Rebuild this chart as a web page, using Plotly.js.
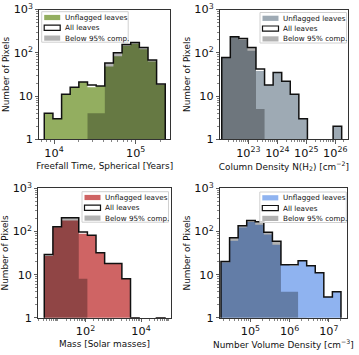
<!DOCTYPE html>
<html>
<head>
<meta charset="utf-8">
<script src="https://cdn.plot.ly/plotly-3.0.1.min.js"></script>
<style>
  html, body { margin: 0; padding: 0; background: #fff; }
  #chart { width: 359px; height: 355px; }
</style>
</head>
<body>
<div id="chart"></div>
<script>
// bin edges are log10 values, 14 bins per panel
const freefallEdges = [3.881, 3.987, 4.093, 4.198, 4.304, 4.410, 4.516, 4.622, 4.727, 4.833, 4.939, 5.045, 5.151, 5.256, 5.362];
const freefallAll = [4, 3, 11, 16, 21, 18, 17, 58, 100, 155, 172, 133, 68, 19];
const freefallUnflagged = [4, 3, 11, 16, 21, 16, 17, 48, 83, 145, 162, 120, 63, 18];
const freefallBelow = [0, 0, 0, 0, 1, 4, 4, 58, 100, 155, 172, 133, 68, 19];

const columnEdges = [22.080, 22.376, 22.672, 22.968, 23.263, 23.559, 23.855, 24.151, 24.447, 24.743, 25.039, 25.335, 25.631, 25.926, 26.222];
const columnAll = [78, 234, 214, 133, 42, 18, 35, 22, 11, 3, 0, 0, 0, 2];
const columnUnflagged = [78, 230, 196, 111, 38, 18, 35, 22, 11, 3, 0, 0, 0, 2];
const columnBelow = [78, 234, 214, 133, 5, 1, 0, 0, 0, 0, 0, 0, 0, 0];

const massEdges = [0.515, 0.826, 1.136, 1.447, 1.758, 2.069, 2.379, 2.690, 3.001, 3.311, 3.622, 3.933, 4.244, 4.554, 4.865];
const massAll = [29, 128, 207, 207, 97, 82, 32, 18, 18, 8, 1, 0, 0, 1];
const massUnflagged = [27, 125, 180, 180, 88, 80, 32, 18, 18, 8, 1, 0, 0, 1];
const massBelow = [29, 128, 207, 207, 8, 0, 0, 0, 0, 0, 0, 0, 0, 0];

const volumeEdges = [4.249, 4.468, 4.686, 4.905, 5.123, 5.342, 5.561, 5.779, 5.998, 6.216, 6.435, 6.654, 6.872, 7.091, 7.310];
const volumeAll = [20, 71, 135, 180, 167, 96, 59, 17, 17, 21, 16, 11, 3, 4];
const volumeUnflagged = [19, 61, 123, 165, 143, 85, 49, 17, 16, 21, 16, 11, 3, 4];
const volumeBelow = [20, 71, 135, 180, 167, 96, 59, 4, 4, 1, 0, 0, 0, 0];

const legendLabels = ['Unflagged leaves', 'All leaves', 'Below 95% comp.'];

const FONT = 'DejaVu Sans, Liberation Sans, sans-serif';
const W = 359, H = 355;
const FLOOR = 0.1; // below the 10^0 axis floor, so outlines run off the bottom
const BELOW_COLOR = 'rgba(0,0,0,0.3)';

function stepOutline(edges, counts) {
  const x = [10 ** edges[0]];
  const y = [FLOOR];
  counts.forEach((c, i) => {
    const v = c > 0 ? c : FLOOR;
    x.push(10 ** edges[i], 10 ** edges[i + 1]);
    y.push(v, v);
  });
  x.push(10 ** edges[edges.length - 1]);
  y.push(FLOOR);
  return { x, y };
}

function panelTraces(idx, edges, all, unflagged, below, color) {
  const suffix = idx === 1 ? '' : String(idx);
  const common = { xaxis: `x${suffix}`, yaxis: `y${suffix}`, mode: 'lines', fill: 'toself', hoverinfo: 'skip', showlegend: false };
  return [
    { ...common, ...stepOutline(edges, unflagged), name: legendLabels[0], fillcolor: color, line: { width: 0, color } },
    { ...common, ...stepOutline(edges, all), name: legendLabels[1], fillcolor: 'rgba(255,255,255,0)', line: { width: 1.5, color: '#111' } },
    { ...common, ...stepOutline(edges, below), name: legendLabels[2], fillcolor: BELOW_COLOR, line: { width: 0, color: BELOW_COLOR } },
  ];
}

const traces = [
  ...panelTraces(1, freefallEdges, freefallAll, freefallUnflagged, freefallBelow, '#93ae60'),
  ...panelTraces(2, columnEdges, columnAll, columnUnflagged, columnBelow, '#9eaab4'),
  ...panelTraces(3, massEdges, massAll, massUnflagged, massBelow, '#cf6464'),
  ...panelTraces(4, volumeEdges, volumeAll, volumeUnflagged, volumeBelow, '#8fb3f0'),
];

const xDom = (a, b) => [a / W, b / W];
const yDom = (top, bottom) => [1 - bottom / H, 1 - top / H];
const px = v => v / W;
const py = v => 1 - v / H;

// matplotlib-style legend boxes, drawn by hand so the rows stay tight
const shapes = [];
const annotations = [];
function legendBox(left, top, color) {
  shapes.push({
    type: 'rect', xref: 'paper', yref: 'paper',
    x0: px(left), x1: px(left + 86.5), y0: py(top + 30.5), y1: py(top),
    fillcolor: 'rgba(255,255,255,0.8)', line: { color: '#d0d0d0', width: 1 },
  });
  const patches = [
    { fill: color, width: 0 },
    { fill: '#fff', width: 1.2 },
    { fill: BELOW_COLOR, width: 0 },
  ];
  legendLabels.forEach((label, i) => {
    const cy = top + 5.8 + i * 10.3;
    shapes.push({
      type: 'rect', xref: 'paper', yref: 'paper',
      x0: px(left + 2.5), x1: px(left + 18.5), y0: py(cy + 2.6), y1: py(cy - 2.6),
      fillcolor: patches[i].fill, line: { width: patches[i].width, color: '#111' },
    });
    annotations.push({
      xref: 'paper', yref: 'paper', x: px(left + 21), y: py(cy), text: label,
      showarrow: false, xanchor: 'left', yanchor: 'middle',
      font: { size: 7.2, color: '#111', family: FONT },
    });
  });
}
legendBox(41.7, 11.7, '#93ae60');
legendBox(260, 12.5, '#9eaab4');
legendBox(82, 191.7, '#cf6464');
legendBox(259.8, 192, '#8fb3f0');

const axisBase = {
  type: 'log', showgrid: false, zeroline: false, showline: true, mirror: true,
  linecolor: '#333', linewidth: 1, ticks: 'outside', ticklen: 3.5, tickwidth: 0.8, tickcolor: '#333',
  exponentformat: 'power', tickfont: { size: 9, color: '#111', family: FONT },
  minor: { ticks: 'outside', ticklen: 2, tickwidth: 0.6, tickcolor: '#333', dtick: 'D1', showgrid: false },
};

function xAxis(domain, range, title, dtick, anchor) {
  return { ...axisBase, domain, range, dtick, anchor, title: { text: title, font: { size: 8.9, color: '#111', family: FONT }, standoff: 3 } };
}
function yAxis(domain, anchor) {
  return { ...axisBase, domain, range: [0, 3], dtick: 1, anchor, title: { text: 'Number of Pixels', font: { size: 8.9, color: '#111', family: FONT }, standoff: 2 } };
}

const layout = {
  width: W, height: H,
  margin: { l: 0, r: 0, t: 0, b: 0 },
  paper_bgcolor: '#fff', plot_bgcolor: '#fff',
  font: { family: FONT, color: '#111' },
  showlegend: false,
  xaxis: xAxis(xDom(39.3, 170), [3.82, 5.42], 'Freefall Time, Spherical [Years]', 1, 'y'),
  yaxis: yAxis(yDom(9.5, 139.3), 'x'),
  xaxis2: xAxis(xDom(220, 347.7), [22.02, 26.43], 'Column Density N(H<sub>2</sub>) [cm<sup>−2</sup>]', 1, 'y2'),
  yaxis2: yAxis(yDom(9.5, 139.3), 'x2'),
  xaxis3: xAxis(xDom(38.3, 170.7), [0.30, 5.07], 'Mass [Solar masses]', 2, 'y3'),
  yaxis3: yAxis(yDom(188.3, 317.7), 'x3'),
  xaxis4: xAxis(xDom(220, 346.7), [4.224, 7.456], 'Number Volume Density [cm<sup>−3</sup>]', 1, 'y4'),
  yaxis4: yAxis(yDom(188.3, 317.7), 'x4'),
  shapes,
  annotations,
};

Plotly.newPlot('chart', traces, layout, { displayModeBar: false, staticPlot: true });
</script>
</body>
</html>
